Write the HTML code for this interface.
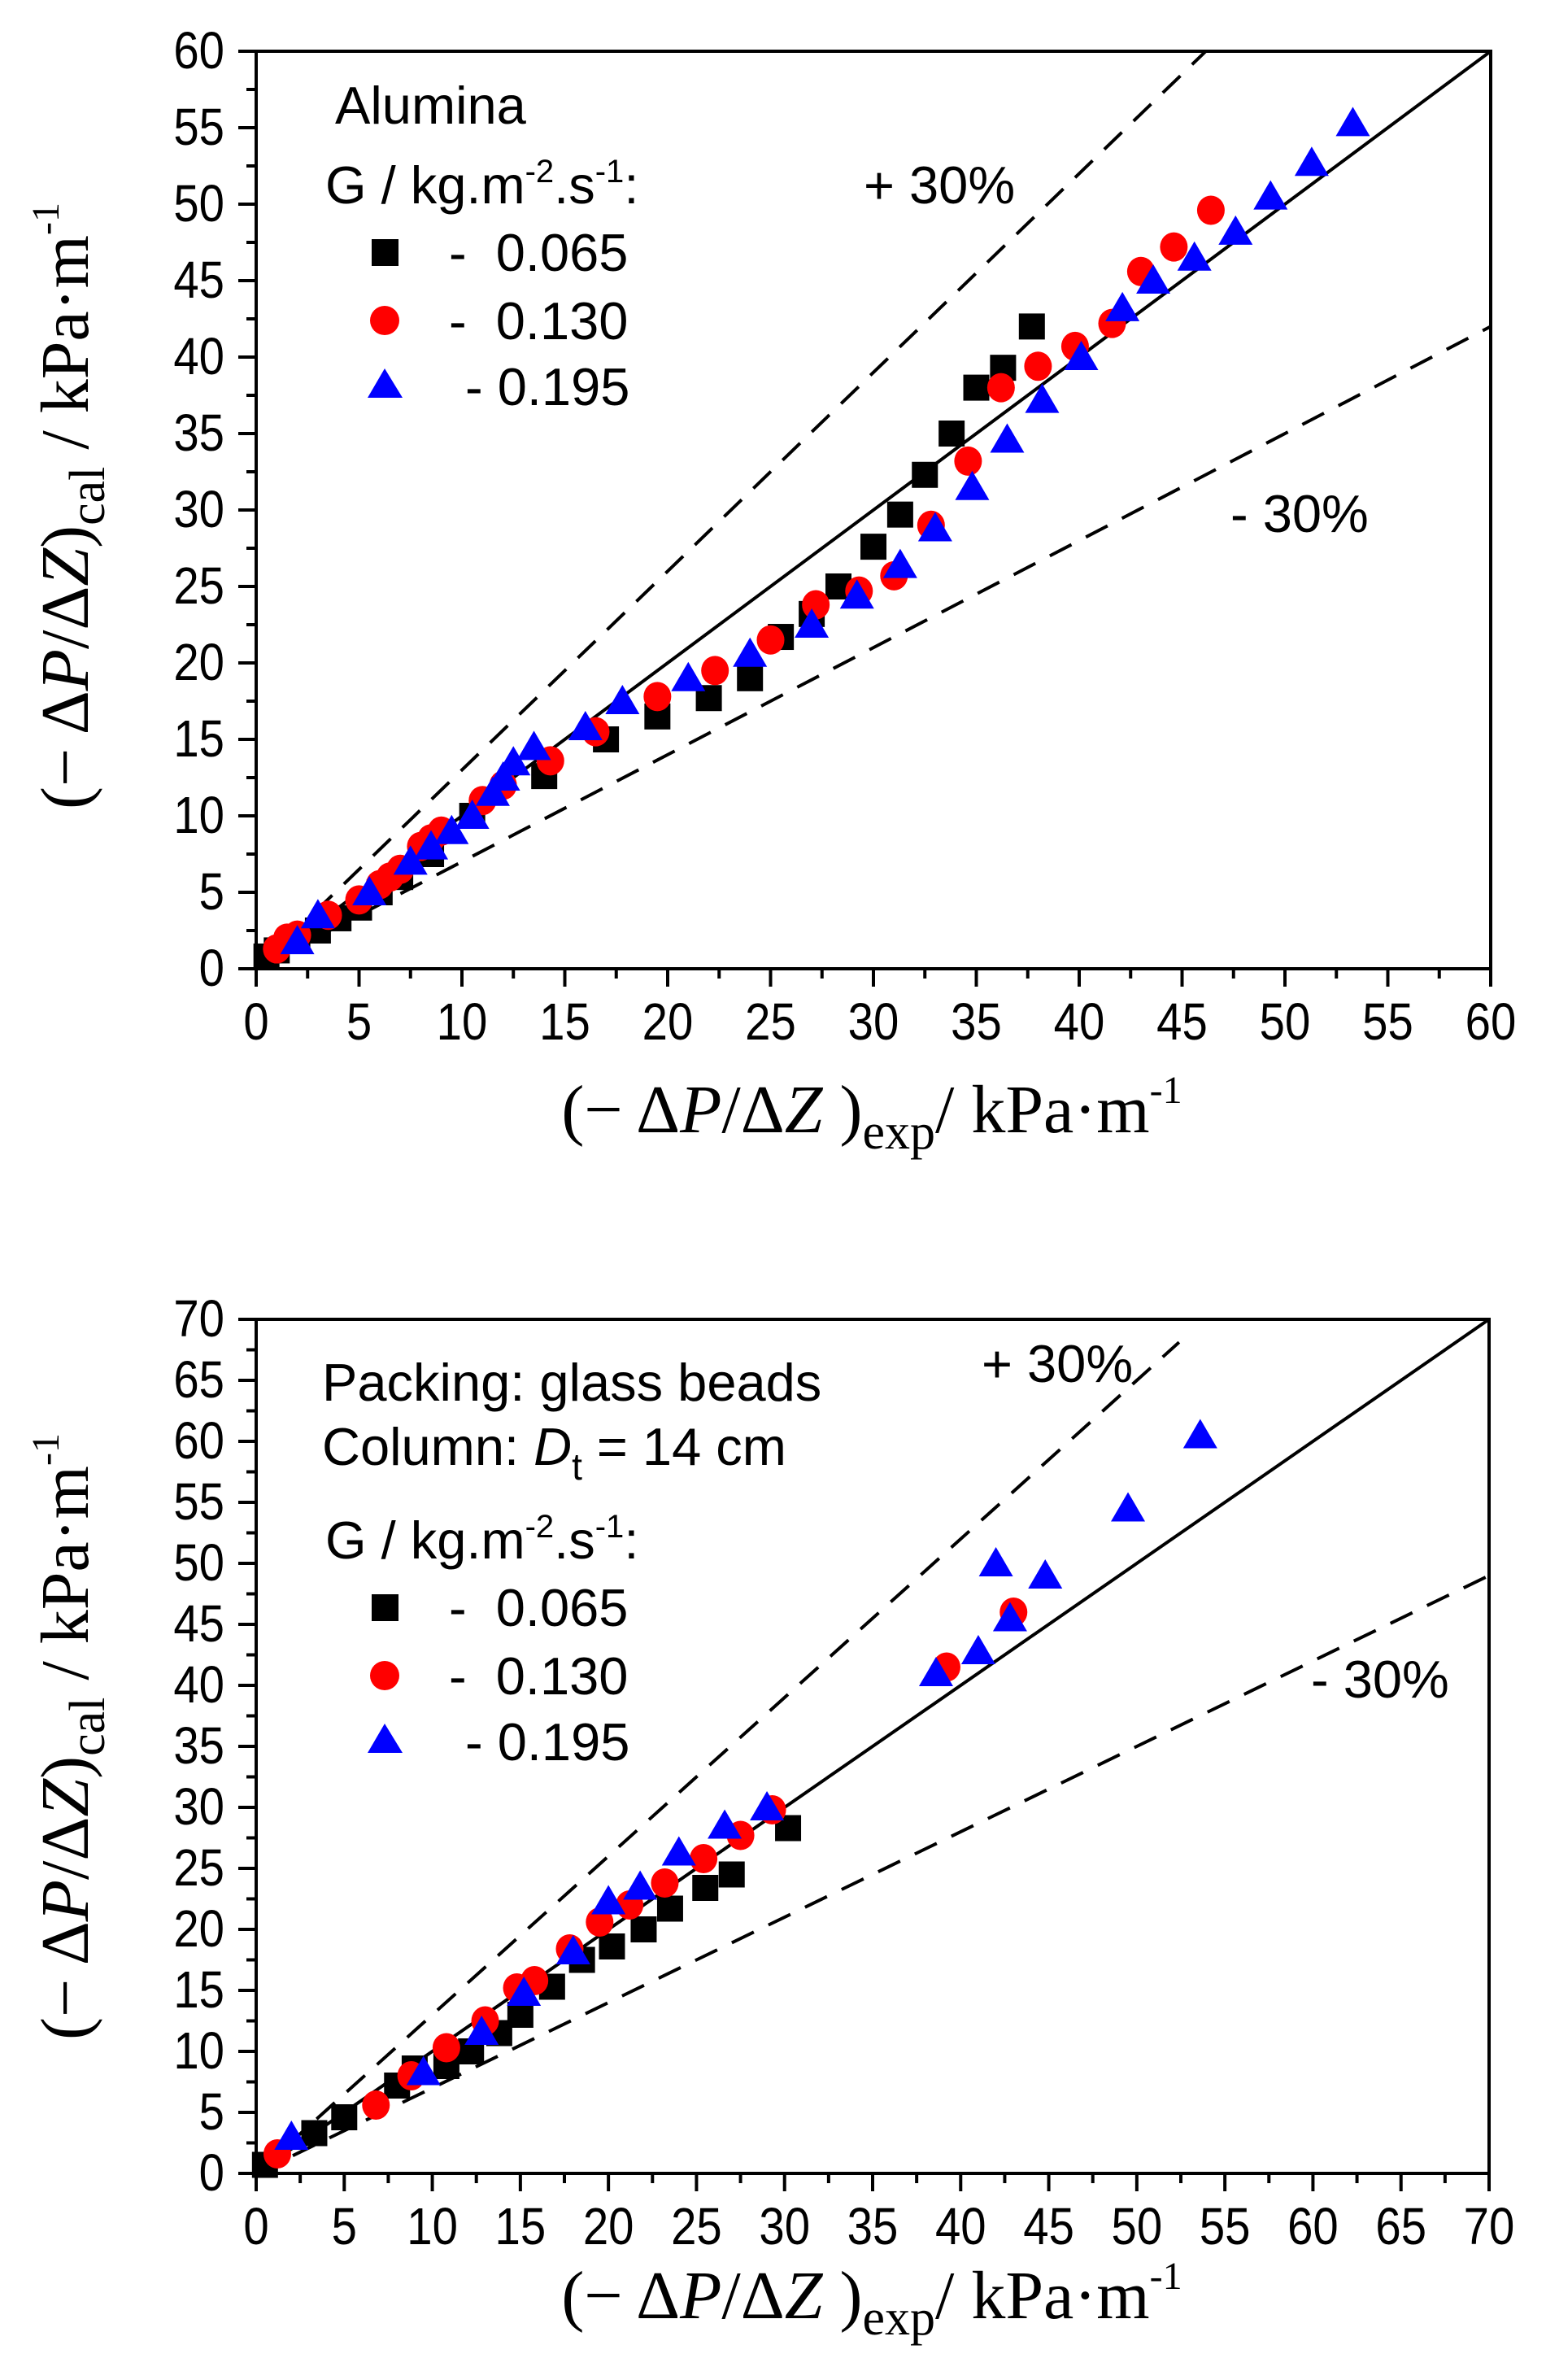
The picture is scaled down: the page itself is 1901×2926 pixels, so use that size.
<!DOCTYPE html>
<html><head><meta charset="utf-8"><style>
html,body{margin:0;padding:0;background:#fff;}
svg{display:block;}
.tk{font-family:"Liberation Sans Narrow","Liberation Sans",sans-serif;font-size:64px;fill:#000;}
.lg{font-family:"Liberation Sans",sans-serif;font-size:65px;fill:#000;white-space:pre;}
.ax{font-family:"Liberation Serif",serif;font-size:84px;fill:#000;}
</style></head><body>
<svg id="chart" width="1901" height="2926" viewBox="0 0 1901 2926" xmlns="http://www.w3.org/2000/svg">
<rect width="1901" height="2926" fill="#fff"/>
</svg>
<script>
// top chart data (Alumina)
const topTicks = [0,5,10,15,20,25,30,35,40,45,50,55,60];
const topSqX = [0.5,1,2,3,4,5,6,7,8.5,10.5,14,17,19.5,22,24,25.5,27,28.3,30,31.3,32.5,33.8,35,36.3,37.7];
const topSqY = [0.8,1.2,2,2.5,3.3,4,5,6,7.5,10,12.6,15,16.5,17.7,19,21.7,23.2,25,27.6,29.7,32.3,35,38,39.3,42];
const topCiX = [1,1.5,2,3.5,5,6,6.5,7,8,8.5,9,11,12,14.3,16.5,19.5,22.3,25,27.2,29.3,31,32.8,34.6,36.2,38,39.8,41.6,43,44.6,46.4];
const topCiY = [1.3,2,2.2,3.5,4.5,5.5,6,6.5,8,8.5,9,11,12,13.6,15.5,17.8,19.5,21.5,23.8,24.7,25.7,29,33.2,38,39.4,40.7,42.2,45.6,47.2,49.6];
const topTrX = [2,3,5.5,7.5,8.5,9.5,10.5,11.5,12,12.5,13.5,16,17.8,21,24,27,29.2,31.3,33,34.8,36.5,38.2,40.1,42.1,43.6,45.6,47.6,49.3,51.3,53.3];
const topTrY = [1.8,3.5,5,7,8,9,10,11.5,12.5,13.5,14.5,15.8,17.5,19,20.6,22.5,24.4,26.4,28.8,31.5,34.6,37.2,40,43.2,45,46.5,48.2,50.5,52.7,55.3];
// bottom chart data (glass beads)
const botTicks = [0,5,10,15,20,25,30,35,40,45,50,55,60,65,70];
const botSqX = [0.5,3.3,5,8,9,10.8,12.2,13.8,15,16.8,18.5,20.2,22,23.5,25.5,27,30.2];
const botSqY = [0.7,3.3,4.6,7.2,8.6,8.8,10,11.5,13,15.3,17.5,18.6,20,21.7,23.4,24.5,28.3];
const botCiX = [1.2,6.8,8.8,10.8,13,14.8,15.8,17.8,19.5,21.2,23.2,25.4,27.5,29.3,39.2,43];
const botCiY = [1.6,5.6,8,10.3,12.5,15.2,15.8,18.4,20.6,22,23.8,25.8,27.7,29.8,41.5,46];
const botTrX = [2,9.5,12.8,15.2,18,20,21.8,24,26.6,29,38.6,41,42,42.8,44.8,49.5,53.6];
const botTrY = [3,8.3,11.6,14.8,18.2,22.3,23.5,26.3,28.5,30,41,42.8,50,45.5,49,54.5,60.5];

const NS="http://www.w3.org/2000/svg";
const svg=document.getElementById('chart');
function mk(tag,attrs,parent){const e=document.createElementNS(NS,tag);for(const k in attrs)e.setAttribute(k,attrs[k]);(parent||svg).appendChild(e);return e;}

function chart(cfg){
  const g=mk('g',{});
  
  
  const X=v=>cfg.x0+(v/cfg.max)*(cfg.x1-cfg.x0);
  const Y=v=>cfg.y0-(v/cfg.max)*(cfg.y0-cfg.y1);
  const cid='clip-'+cfg.name;
  const cp=mk('clipPath',{id:cid},g);
  mk('rect',{x:cfg.x0,y:cfg.y1,width:cfg.x1-cfg.x0,height:cfg.y0-cfg.y1},cp);
  const fr=mk('rect',{x:cfg.x0,y:cfg.y1,width:cfg.x1-cfg.x0,height:cfg.y0-cfg.y1,fill:'none',stroke:'#000','stroke-width':4},g);
  
  
  const ticks=cfg.ticks;
  for(let i=0;i<ticks.length;i++){
    const v=ticks[i];
    mk('line',{x1:X(v),x2:X(v),y1:cfg.y0,y2:cfg.y0+22,stroke:'#000','stroke-width':4},g);
    mk('line',{x1:cfg.x0,x2:cfg.x0-22,y1:Y(v),y2:Y(v),stroke:'#000','stroke-width':4},g);
    if(i<ticks.length-1){
      const m=v+(ticks[1]-ticks[0])/2;
      mk('line',{x1:X(m),x2:X(m),y1:cfg.y0,y2:cfg.y0+12,stroke:'#000','stroke-width':4},g);
      mk('line',{x1:cfg.x0,x2:cfg.x0-12,y1:Y(m),y2:Y(m),stroke:'#000','stroke-width':4},g);
    }
    const tx=mk('text',{x:0,y:0,transform:'translate('+X(v)+','+(cfg.y0+87)+') scale(0.88,1)','text-anchor':'middle',class:'tk'},g);
    tx.textContent=v;
    
    
    const ty=mk('text',{x:0,y:0,transform:'translate(276,'+(Y(v)+21)+') scale(0.88,1)','text-anchor':'end',class:'tk'},g);
    ty.textContent=v;
    
    
  }
  const cg=mk('g',{'clip-path':'url(#'+cid+')'},g);
  const l1=mk('line',{x1:X(0),y1:Y(0),x2:X(cfg.max),y2:Y(cfg.max),stroke:'#000','stroke-width':4},cg);
  
  
  const pe=cfg.plusEnd;
  const l2=mk('line',{x1:X(0),y1:Y(0),x2:X(pe),y2:Y(pe*1.3),stroke:'#000','stroke-width':4,'stroke-dasharray':'30 20'},cg);
  
  
  const l3=mk('line',{x1:X(0),y1:Y(0),x2:X(cfg.max),y2:Y(cfg.max*0.7),stroke:'#000','stroke-width':4,'stroke-dasharray':'30 20'},cg);
  
  
  for(let i=0;i<cfg.sx.length;i++){
    const s=mk('rect',{x:X(cfg.sx[i])-16,y:Y(cfg.sy[i])-16,width:32,height:32,fill:'#000'},g);
    
    
  }
  for(let i=0;i<cfg.cx.length;i++){
    const c=mk('ellipse',{cx:X(cfg.cx[i]),cy:Y(cfg.cy[i]),rx:17,ry:18,fill:'#ff0000'},g);
    
    
  }
  for(let i=0;i<cfg.tx.length;i++){
    const x=X(cfg.tx[i]),y=Y(cfg.ty[i]);
    const t=mk('polygon',{points:(x-21)+','+(y+16)+' '+(x+21)+','+(y+16)+' '+x+','+(y-20),fill:'#0000ff'},g);
    
    
  }
  return g;
}
chart({name:'alumina-chart',x0:315,x1:1833,y0:1191,y1:63,max:60,ticks:topTicks,plusEnd:46.2,
  sx:topSqX,sy:topSqY,cx:topCiX,cy:topCiY,tx:topTrX,ty:topTrY});
chart({name:'glass-beads-chart',x0:315,x1:1831,y0:2672,y1:1622,max:70,ticks:botTicks,plusEnd:52.4,
  sx:botSqX,sy:botSqY,cx:botCiX,cy:botCiY,tx:botTrX,ty:botTrY});
</script>
<svg style="position:absolute;left:0;top:0" width="1901" height="2926" xmlns="http://www.w3.org/2000/svg">
  <text class="lg" x="412" y="152">Alumina</text>
  <text class="lg" x="400" y="250">G / kg.m<tspan dy="-26" font-size="40">-2</tspan><tspan dy="26">.s</tspan><tspan dy="-26" font-size="40">-1</tspan><tspan dy="26">:</tspan></text>
  <rect x="457" y="294" width="33" height="33" fill="#000"/>
  <text class="lg" x="552" y="333">-  0.065</text>
  <circle cx="473" cy="394" r="18" fill="#ff0000"/>
  <text class="lg" x="552" y="417">-  0.130</text>
  <polygon points="452,489 495,489 473,453" fill="#0000ff"/>
  <text class="lg" x="572" y="498">- 0.195</text>
  <text class="lg" x="1062" y="250">+ 30%</text>
  <text class="lg" x="1513" y="654">- 30%</text>
  <text class="ax" transform="translate(108,622) rotate(-90)" text-anchor="middle">(− Δ<tspan font-style="italic">P</tspan>/Δ<tspan font-style="italic">Z</tspan>)<tspan dy="20" font-size="62">cal</tspan><tspan dy="-20"> / kPa·m</tspan><tspan dy="-36" font-size="48">-1</tspan></text>
  <text class="ax" x="1072" y="1392" text-anchor="middle">(− Δ<tspan font-style="italic">P</tspan>/Δ<tspan font-style="italic">Z</tspan> )<tspan dy="20" font-size="62">exp</tspan><tspan dy="-20">/ kPa·m</tspan><tspan dy="-36" font-size="48">-1</tspan></text>

  <text class="lg" x="396" y="1722">Packing: glass beads</text>
  <text class="lg" x="396" y="1801">Column: <tspan font-style="italic">D</tspan><tspan dy="18" font-size="46">t</tspan><tspan dy="-18"> = 14 cm</tspan></text>
  <text class="lg" x="400" y="1916">G / kg.m<tspan dy="-26" font-size="40">-2</tspan><tspan dy="26">.s</tspan><tspan dy="-26" font-size="40">-1</tspan><tspan dy="26">:</tspan></text>
  <rect x="457" y="1960" width="33" height="33" fill="#000"/>
  <text class="lg" x="552" y="1999">-  0.065</text>
  <circle cx="473" cy="2060" r="18" fill="#ff0000"/>
  <text class="lg" x="552" y="2083">-  0.130</text>
  <polygon points="452,2155 495,2155 473,2119" fill="#0000ff"/>
  <text class="lg" x="572" y="2164">- 0.195</text>
  <text class="lg" x="1207" y="1699">+ 30%</text>
  <text class="lg" x="1612" y="2087">- 30%</text>
  <text class="ax" transform="translate(108,2135) rotate(-90)" text-anchor="middle">(− Δ<tspan font-style="italic">P</tspan>/Δ<tspan font-style="italic">Z</tspan>)<tspan dy="20" font-size="62">cal</tspan><tspan dy="-20"> / kPa·m</tspan><tspan dy="-36" font-size="48">-1</tspan></text>
  <text class="ax" x="1072" y="2850" text-anchor="middle">(− Δ<tspan font-style="italic">P</tspan>/Δ<tspan font-style="italic">Z</tspan> )<tspan dy="20" font-size="62">exp</tspan><tspan dy="-20">/ kPa·m</tspan><tspan dy="-36" font-size="48">-1</tspan></text>
</svg>
</body></html>
